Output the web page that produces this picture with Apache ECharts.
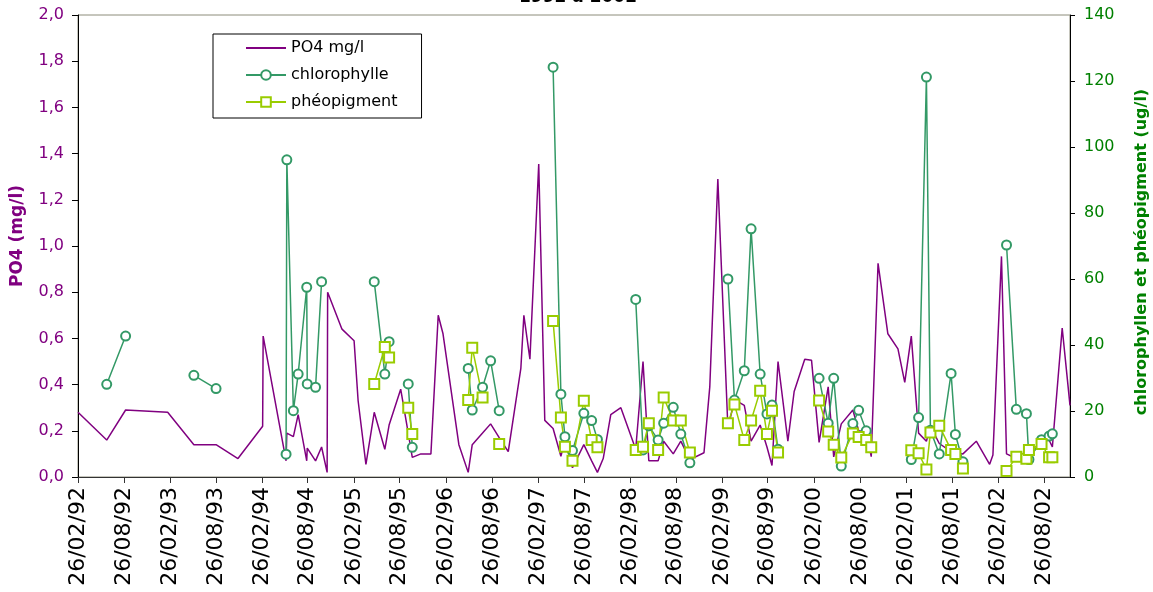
<!DOCTYPE html>
<html>
<head>
<meta charset="utf-8">
<script src="https://cdn.jsdelivr.net/npm/echarts@6/dist/echarts.min.js"></script>
<style>
html,body{margin:0;padding:0;background:#fff;}
#chart{width:1153px;height:592px;}
</style>
</head>
<body>
<div id="chart"></div>
<script>
// Sampling dates (shared by all series)
const dates = [
 '1992-02-26','1992-06-19','1992-09-02','1993-02-16','1993-05-31','1993-08-27','1993-11-22',
 '1994-02-28','1994-03-02','1994-06-01','1994-06-04','1994-06-30','1994-07-19','1994-08-22',
 '1994-08-24','1994-09-26','1994-10-20','1994-11-11','1994-11-13','1995-01-09','1995-02-26',
 '1995-03-14','1995-04-14','1995-05-17','1995-06-28','1995-07-15','1995-08-30','1995-09-29',
 '1995-10-15','1995-11-18','1995-12-28','1996-01-26','1996-02-14','1996-04-17','1996-05-24',
 '1996-06-09','1996-07-20','1996-08-21','1996-09-24','1996-10-30','1996-12-19','1996-12-31',
 '1997-01-24','1997-02-28','1997-03-24','1997-04-26','1997-05-27','1997-06-12','1997-07-12',
 '1997-08-26','1997-09-26','1997-10-19','1997-11-11','1997-12-11','1998-01-20','1998-03-20',
 '1998-04-18','1998-05-11','1998-06-17','1998-07-09','1998-08-16','1998-09-15','1998-10-21',
 '1998-12-16','1999-01-08','1999-02-09','1999-03-21','1999-04-16','1999-05-25','1999-06-21',
 '1999-07-27','1999-08-23','1999-09-12','1999-10-06','1999-11-14','1999-12-09','2000-01-20',
 '2000-02-16','2000-03-17','2000-04-22','2000-05-14','2000-06-13','2000-07-29','2000-08-21',
 '2000-09-20','2000-10-10','2000-11-06','2000-12-15','2001-01-24','2001-02-20','2001-03-18',
 '2001-04-16','2001-05-17','2001-06-02','2001-07-07','2001-08-23','2001-09-09','2001-10-09',
 '2001-12-01','2002-01-23','2002-02-05','2002-03-11','2002-03-31','2002-05-09','2002-06-18',
 '2002-06-28','2002-08-17','2002-09-16','2002-09-29','2002-11-07','2002-12-08'
];
// PO4 (mg/l)
const po4 = [
 0.28,0.16,0.29,0.28,0.14,0.14,0.08,
 0.22,0.61,0.07,0.19,0.175,0.27,0.07,
 0.125,0.07,0.13,0.02,0.80,0.64,0.59,
 0.33,0.055,0.28,0.12,0.225,0.38,0.19,
 0.085,0.10,0.10,0.70,0.62,0.14,0.02,
 0.14,0.19,0.23,0.17,0.11,0.47,0.70,
 0.51,1.355,0.245,0.21,0.09,0.16,0.04,
 0.14,0.07,0.02,0.08,0.27,0.30,0.12,
 0.50,0.07,0.07,0.155,0.10,0.155,0.075,
 0.105,0.39,1.29,0.21,0.335,0.31,0.155,
 0.225,0.13,0.05,0.50,0.155,0.37,0.51,
 0.505,0.15,0.39,0.087,0.23,0.29,0.20,
 0.195,0.088,0.925,0.62,0.555,0.41,0.61,
 0.19,0.155,0.22,0.145,0.11,0.105,0.10,
 0.155,0.055,0.095,0.955,0.10,0.08,0.075,
 0.085,0.155,0.16,0.13,0.645,0.31
];
// chlorophylle (ug/l), null = no measurement
const chl = [
 null,28.1,42.7,null,30.8,26.8,null,
 null,null,6.9,96.1,20.1,31.2,57.5,
 28.2,27.2,59.2,null,null,null,null,
 null,null,59.2,31.2,41.0,null,28.2,
 9.0,null,null,null,null,null,32.9,
 20.3,27.2,35.2,20.1,null,null,null,
 null,null,null,124.2,25.1,12.2,8.0,
 19.3,17.1,11.4,null,null,null,53.8,
 8.2,15.5,11.2,16.3,21.1,13.0,4.3,
 null,null,null,60.0,23.3,32.2,75.2,
 31.2,19.1,21.8,8.4,null,null,null,
 null,29.9,16.3,29.9,3.3,16.2,20.2,
 14.0,9.0,null,null,null,null,5.3,
 18.0,121.2,14.2,7.0,31.4,12.9,4.6,
 null,null,null,null,70.3,20.5,19.2,
 5.3,11.3,12.4,13.1,null,null
];
// phéopigment (ug/l)
const pheo = [
 null,null,null,null,null,null,null,
 null,null,null,null,null,null,null,
 null,null,null,null,null,null,null,
 null,null,28.2,39.4,36.2,null,21.0,
 13.0,null,null,null,null,null,23.3,
 39.2,24.1,null,10.0,null,null,null,
 null,null,null,47.3,18.0,9.2,4.9,
 23.1,11.2,9.0,null,null,null,8.2,
 9.2,16.3,8.2,24.1,17.1,17.1,7.4,
 null,null,null,16.3,22.0,11.2,17.1,
 26.1,13.0,20.1,7.4,null,null,null,
 null,23.2,13.8,9.8,5.9,13.2,12.1,
 11.2,9.0,null,null,null,null,8.1,
 7.2,2.3,13.5,15.5,8.2,7.0,2.6,
 null,null,null,null,1.8,6.1,5.5,
 8.2,10.0,6.0,6.0,null,null
];
const tickLabels = [
 '26/02/92','26/08/92','26/02/93','26/08/93','26/02/94','26/08/94','26/02/95',
 '26/08/95','26/02/96','26/08/96','26/02/97','26/08/97','26/02/98','26/08/98',
 '26/02/99','26/08/99','26/02/00','26/08/00','26/02/01','26/08/01','26/02/02','26/08/02'
];
const axisStart = '1992-02-26';
const axisEnd = '2002-12-08';

function parseISO(s){ const p=s.split('-'); return Date.UTC(+p[0], +p[1]-1, +p[2]); }
function parseLabel(s){ const p=s.split('/'); const y=+p[2]; return Date.UTC((y<50?2000:1900)+y, +p[1]-1, +p[0]); }
const tickVals = tickLabels.map(parseLabel);
function fmtDate(v){
  const d=new Date(v);
  const dd=String(d.getUTCDate()).padStart(2,'0');
  const mm=String(d.getUTCMonth()+1).padStart(2,'0');
  const yy=String(d.getUTCFullYear()%100).padStart(2,'0');
  return dd+'/'+mm+'/'+yy;
}
const mk = arr => dates.map((d,i)=>[parseISO(d), arr[i]==null?'-':arr[i]]);

const FONT = 'DejaVu Sans';
const chart = echarts.init(document.getElementById('chart'), null, {renderer:'canvas'});
chart.setOption({
  animation:false,
  backgroundColor:'#ffffff',
  textStyle:{fontFamily:FONT},
  graphic:[{
    type:'text', x:578, y:6,
    style:{text:'1992 à 2002', font:'bold 17px "DejaVu Sans"', fill:'#000', textAlign:'center', textVerticalAlign:'bottom'}
  }],
  grid:{left:78, right:83, top:15, bottom:115, containLabel:false, outerBoundsMode:'none',
        show:true, borderColor:'#8c8c7a', borderWidth:1, backgroundColor:'transparent'},
  legend:{
    orient:'vertical', left:213, top:34,
    padding:[6,24,8,32], itemGap:11, itemWidth:40, itemHeight:12,
    backgroundColor:'#fff', borderColor:'#000', borderWidth:1,
    textStyle:{fontFamily:FONT, fontSize:16, color:'#000'},
    data:[{name:'PO4 mg/l', itemStyle:{opacity:0}},'chlorophylle','phéopigment']
  },
  xAxis:{
    type:'value', min:parseISO(axisStart), max:parseISO(axisEnd), scale:true,
    axisLine:{show:true, onZero:false, lineStyle:{color:'#333', width:1}},
    axisTick:{show:true, customValues:tickVals, length:6, lineStyle:{color:'#333'}},
    axisLabel:{customValues:tickVals, rotate:90, formatter:fmtDate, fontFamily:FONT, fontSize:22, color:'#000', margin:10},
    splitLine:{show:false}
  },
  yAxis:[{
    type:'value', min:0, max:2, interval:0.2, position:'left',
    name:'PO4 (mg/l)', nameLocation:'middle', nameRotate:90, nameGap:52,
    nameTextStyle:{color:'#800080', fontWeight:'bold', fontSize:17, fontFamily:FONT, padding:[0,0,0,20]},
    axisLine:{show:true, lineStyle:{color:'#000'}},
    axisTick:{show:true, length:6, lineStyle:{color:'#000'}},
    axisLabel:{color:'#800080', fontSize:16, fontFamily:FONT, margin:14, formatter:v=>v.toFixed(1).replace('.',',')},
    splitLine:{show:false}
  },{
    type:'value', min:0, max:140, interval:20, position:'right',
    name:'chlorophyllen et phéopigment (ug/l)', nameLocation:'middle', nameRotate:90, nameGap:64,
    nameTextStyle:{color:'#008000', fontWeight:'bold', fontSize:16, fontFamily:FONT, padding:[0,12,0,0]},
    axisLine:{show:true, lineStyle:{color:'#000'}},
    axisTick:{show:true, length:5, lineStyle:{color:'#000'}},
    axisLabel:{color:'#008000', fontSize:16, fontFamily:FONT, margin:14},
    splitLine:{show:false}
  }],
  series:[{
    name:'PO4 mg/l', type:'line', yAxisIndex:0, data:mk(po4),
    symbol:'none',
    lineStyle:{color:'#800080', width:1.5}, itemStyle:{color:'#800080'}
  },{
    name:'chlorophylle', type:'line', yAxisIndex:1, data:mk(chl),
    symbol:'emptyCircle', symbolSize:9, connectNulls:false,
    lineStyle:{color:'#339966', width:1.5},
    itemStyle:{color:'#339966', borderColor:'#339966', borderWidth:1.5}
  },{
    name:'phéopigment', type:'line', yAxisIndex:1, data:mk(pheo),
    symbol:'emptyRect', symbolSize:10, connectNulls:false,
    lineStyle:{color:'#99cc00', width:1.5},
    itemStyle:{color:'#99cc00', borderColor:'#99cc00', borderWidth:1.5}
  }]
});
</script>
</body>
</html>
